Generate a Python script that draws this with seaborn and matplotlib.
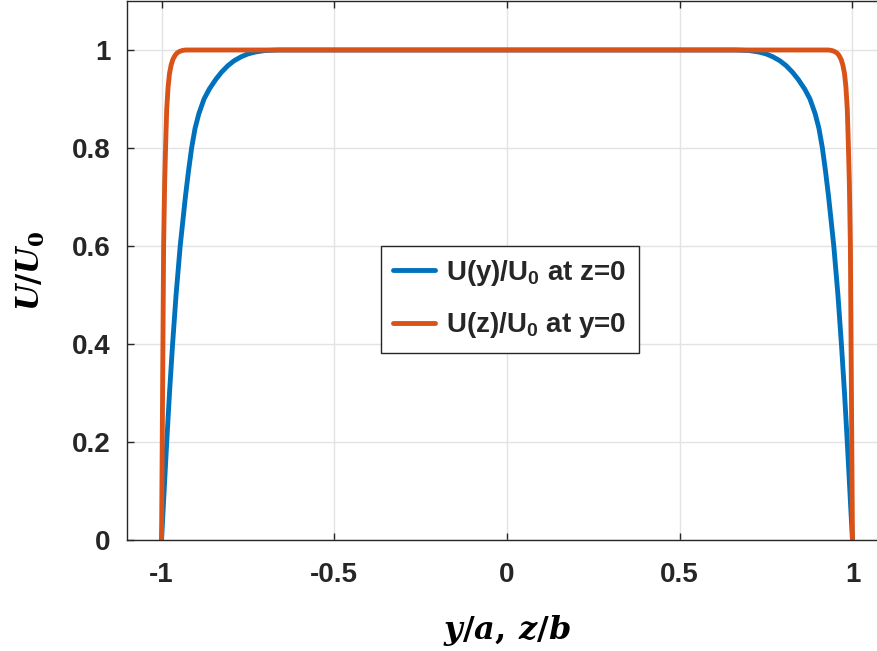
import matplotlib
matplotlib.use("Agg")
import matplotlib.pyplot as plt
import seaborn as sns
import pandas as pd

# Velocity profile U(y)/U0 along z=0 (blue) - position and normalized velocity
y_pos = [-1.000, -0.9925, -0.985, -0.977, -0.968, -0.958, -0.946, -0.931, -0.9225, -0.913,
         -0.903, -0.892, -0.877, -0.862, -0.843, -0.826, -0.808, -0.790, -0.770, -0.750,
         -0.728, -0.700, -0.660, -0.400, -0.200, 0.000, 0.200, 0.400,
         0.660, 0.700, 0.728, 0.750, 0.770, 0.790, 0.808, 0.826, 0.843, 0.862,
         0.877, 0.892, 0.903, 0.913, 0.9225, 0.931, 0.946, 0.958, 0.968, 0.977,
         0.985, 0.9925, 1.000]
u_y = [0.000, 0.100, 0.200, 0.300, 0.400, 0.500, 0.600, 0.700, 0.750, 0.800,
       0.840, 0.870, 0.900, 0.920, 0.940, 0.955, 0.968, 0.978, 0.986, 0.992,
       0.996, 0.999, 1.000, 1.000, 1.000, 1.000, 1.000, 1.000,
       1.000, 0.999, 0.996, 0.992, 0.986, 0.978, 0.968, 0.955, 0.940, 0.920,
       0.900, 0.870, 0.840, 0.800, 0.750, 0.700, 0.600, 0.500, 0.400, 0.300,
       0.200, 0.100, 0.000]

# Velocity profile U(z)/U0 along y=0 (orange)
z_pos = [-1.000, -0.998, -0.996, -0.994, -0.991, -0.988, -0.985, -0.981, -0.977, -0.972,
         -0.967, -0.961, -0.955, -0.948, -0.940, -0.930, -0.920, -0.900, -0.800,
         -0.500, 0.000, 0.500,
         0.800, 0.900, 0.920, 0.930, 0.940, 0.948, 0.955, 0.961, 0.967, 0.972,
         0.977, 0.981, 0.985, 0.988, 0.991, 0.994, 0.996, 0.998, 1.000]
u_z = [0.000, 0.200, 0.400, 0.600, 0.730, 0.810, 0.880, 0.925, 0.952, 0.970,
       0.981, 0.989, 0.994, 0.997, 0.999, 1.000, 1.000, 1.000, 1.000,
       1.000, 1.000, 1.000,
       1.000, 1.000, 1.000, 1.000, 0.999, 0.997, 0.994, 0.989, 0.981, 0.970,
       0.952, 0.925, 0.880, 0.810, 0.730, 0.600, 0.400, 0.200, 0.000]

labels = [r"U(y)/U$_\mathregular{0}$ at z=0", r"U(z)/U$_\mathregular{0}$ at y=0"]
colors = ["#0072BD", "#D95319"]
x_ticks = [-1, -0.5, 0, 0.5, 1]
x_ticklabels = ["-1", "-0.5", "0", "0.5", "1"]
y_ticks = [0, 0.2, 0.4, 0.6, 0.8, 1]
y_ticklabels = ["0", "0.2", "0.4", "0.6", "0.8", "1"]

df = pd.concat([
    pd.DataFrame({"pos": y_pos, "u": u_y, "profile": labels[0]}),
    pd.DataFrame({"pos": z_pos, "u": u_z, "profile": labels[1]}),
], ignore_index=True)

sns.set_theme(style="whitegrid")
plt.rcParams["font.family"] = ["Liberation Sans", "DejaVu Sans"]
plt.rcParams["mathtext.fontset"] = "custom"
plt.rcParams["mathtext.it"] = "DejaVu Serif:italic:bold"
plt.rcParams["mathtext.rm"] = "DejaVu Serif:bold"
plt.rcParams["mathtext.bf"] = "DejaVu Serif:bold"

fig = plt.figure(figsize=(8.77, 6.51), dpi=100)
ax = fig.add_axes([127 / 877, 111 / 651, 760 / 877, 539 / 651])

sns.lineplot(data=df, x="pos", y="u", hue="profile", palette=colors, sort=False,
             estimator=None, linewidth=3.5, ax=ax, legend=True)

ax.set_xlim(-1.1, 1.1)
ax.set_ylim(0, 1.1)
ax.set_xticks(x_ticks)
ax.set_xticklabels(x_ticklabels)
ax.set_yticks(y_ticks)
ax.set_yticklabels(y_ticklabels)

dark = "#262626"
for lab in ax.get_xticklabels() + ax.get_yticklabels():
    lab.set_fontsize(20)
    lab.set_fontweight("bold")
    lab.set_color(dark)

ax.grid(True, color="#e3e3e3", linewidth=1.0)
ax.tick_params(axis="x", pad=16)
ax.tick_params(axis="y", pad=12)
ax.tick_params(axis="both", direction="in", length=5, width=1.0, color=dark,
               top=True, right=True, bottom=True, left=True)
for s in ax.spines.values():
    s.set_color(dark)
    s.set_linewidth(1.0)

ax.set_xlabel(r"$y/a,\,z/b$", fontsize=23, color="black", labelpad=18)
ax.set_ylabel(r"$U/U_\mathrm{0}$", fontsize=22, color="black", labelpad=18)

leg = ax.legend(loc="upper left", bbox_to_anchor=(0.334, 0.546), borderaxespad=0,
                frameon=True, fancybox=False, edgecolor=dark, framealpha=1,
                prop={"weight": "bold", "size": 20}, handlelength=1.5,
                handletextpad=0.4, borderpad=0.45, labelspacing=0.8, title=None)
leg.get_frame().set_linewidth(1.0)
for ln in leg.get_lines():
    ln.set_linewidth(3.5)

fig.savefig("out.png", dpi=100)
